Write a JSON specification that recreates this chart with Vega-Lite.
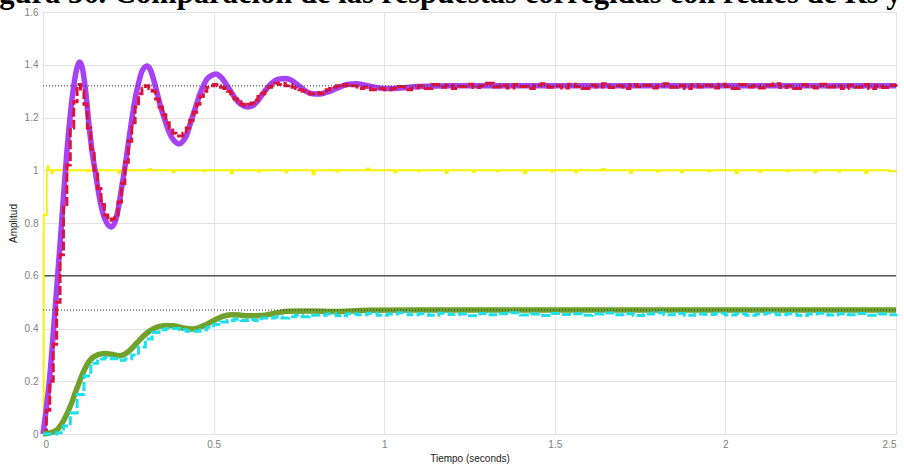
{
  "$schema": "https://vega.github.io/schema/vega-lite/v6.json",
  "width": 853,
  "height": 422,
  "autosize": {"type": "none"},
  "padding": {"left": 43, "top": 12, "right": 8, "bottom": 31},
  "background": "white",
  "title": {
    "text": "Figura 36. Comparación de las respuestas corregidas con reales de Rs y",
    "font": "Liberation Serif",
    "fontWeight": "bold",
    "fontSize": 30.6,
    "color": "black",
    "anchor": "start",
    "frame": "group",
    "baseline": "alphabetic",
    "dx": -71,
    "dy": 27,
    "offset": 0
  },
  "config": {
    "view": {"stroke": "#bdbdbd", "strokeWidth": 1},
    "axis": {
      "domain": false,
      "ticks": false,
      "grid": true,
      "gridColor": "#e3e3e3",
      "gridWidth": 1,
      "labelFont": "Liberation Sans Narrow, Liberation Sans",
      "labelFontSize": 10,
      "labelColor": "#808080",
      "titleFont": "Liberation Sans",
      "titleFontSize": 10,
      "titleFontWeight": "normal",
      "titleColor": "#222222"
    }
  },
  "datasets": {
    "purple": [
      {"t": 0, "v": 0}, {"t": 0.01, "v": 0.1}, {"t": 0.02, "v": 0.22}, {"t": 0.03, "v": 0.38}, {"t": 0.04, "v": 0.55},
      {"t": 0.05, "v": 0.72}, {"t": 0.06, "v": 0.9}, {"t": 0.07, "v": 1.07}, {"t": 0.08, "v": 1.21}, {"t": 0.09, "v": 1.32},
      {"t": 0.1, "v": 1.39}, {"t": 0.107, "v": 1.41}, {"t": 0.115, "v": 1.39}, {"t": 0.125, "v": 1.3}, {"t": 0.135, "v": 1.17},
      {"t": 0.145, "v": 1.06}, {"t": 0.155, "v": 0.98}, {"t": 0.165, "v": 0.9}, {"t": 0.175, "v": 0.84}, {"t": 0.187, "v": 0.8},
      {"t": 0.2, "v": 0.785}, {"t": 0.21, "v": 0.8}, {"t": 0.22, "v": 0.85}, {"t": 0.23, "v": 0.93}, {"t": 0.24, "v": 1.01},
      {"t": 0.25, "v": 1.1}, {"t": 0.26, "v": 1.19}, {"t": 0.27, "v": 1.27}, {"t": 0.28, "v": 1.33}, {"t": 0.29, "v": 1.375},
      {"t": 0.305, "v": 1.395}, {"t": 0.315, "v": 1.38}, {"t": 0.325, "v": 1.34}, {"t": 0.335, "v": 1.29}, {"t": 0.345, "v": 1.24},
      {"t": 0.355, "v": 1.2}, {"t": 0.365, "v": 1.16}, {"t": 0.375, "v": 1.13}, {"t": 0.387, "v": 1.108}, {"t": 0.4, "v": 1.1},
      {"t": 0.41, "v": 1.11}, {"t": 0.42, "v": 1.13}, {"t": 0.43, "v": 1.17}, {"t": 0.44, "v": 1.21}, {"t": 0.45, "v": 1.25},
      {"t": 0.46, "v": 1.29}, {"t": 0.47, "v": 1.32}, {"t": 0.48, "v": 1.345}, {"t": 0.495, "v": 1.36}, {"t": 0.507, "v": 1.365},
      {"t": 0.52, "v": 1.355}, {"t": 0.535, "v": 1.33}, {"t": 0.55, "v": 1.3}, {"t": 0.565, "v": 1.27}, {"t": 0.58, "v": 1.25},
      {"t": 0.6, "v": 1.24}, {"t": 0.615, "v": 1.245}, {"t": 0.63, "v": 1.265}, {"t": 0.65, "v": 1.3}, {"t": 0.67, "v": 1.33},
      {"t": 0.69, "v": 1.345}, {"t": 0.71, "v": 1.348}, {"t": 0.73, "v": 1.34}, {"t": 0.75, "v": 1.32}, {"t": 0.77, "v": 1.3},
      {"t": 0.79, "v": 1.29}, {"t": 0.81, "v": 1.289}, {"t": 0.83, "v": 1.295}, {"t": 0.86, "v": 1.31}, {"t": 0.89, "v": 1.325},
      {"t": 0.92, "v": 1.328}, {"t": 0.96, "v": 1.318}, {"t": 1.0, "v": 1.31}, {"t": 1.05, "v": 1.312}, {"t": 1.1, "v": 1.318},
      {"t": 1.2, "v": 1.32}, {"t": 2.5, "v": 1.32}
    ],
    "red": [
      {"t": 0, "v": 0}, {"t": 0.01, "v": 0.09}, {"t": 0.02, "v": 0.2}, {"t": 0.03, "v": 0.34}, {"t": 0.04, "v": 0.5},
      {"t": 0.05, "v": 0.68}, {"t": 0.06, "v": 0.86}, {"t": 0.07, "v": 1.02}, {"t": 0.08, "v": 1.16}, {"t": 0.09, "v": 1.26},
      {"t": 0.1, "v": 1.325}, {"t": 0.11, "v": 1.3}, {"t": 0.12, "v": 1.25}, {"t": 0.13, "v": 1.16}, {"t": 0.14, "v": 1.08},
      {"t": 0.15, "v": 1.0}, {"t": 0.16, "v": 0.93}, {"t": 0.17, "v": 0.87}, {"t": 0.18, "v": 0.83}, {"t": 0.19, "v": 0.81},
      {"t": 0.2, "v": 0.815}, {"t": 0.21, "v": 0.83}, {"t": 0.22, "v": 0.88}, {"t": 0.23, "v": 0.95}, {"t": 0.24, "v": 1.03},
      {"t": 0.25, "v": 1.11}, {"t": 0.26, "v": 1.18}, {"t": 0.27, "v": 1.24}, {"t": 0.28, "v": 1.29}, {"t": 0.29, "v": 1.31},
      {"t": 0.3, "v": 1.32}, {"t": 0.31, "v": 1.31}, {"t": 0.32, "v": 1.3}, {"t": 0.33, "v": 1.27}, {"t": 0.34, "v": 1.24},
      {"t": 0.35, "v": 1.21}, {"t": 0.36, "v": 1.18}, {"t": 0.37, "v": 1.16}, {"t": 0.38, "v": 1.14}, {"t": 0.39, "v": 1.13},
      {"t": 0.4, "v": 1.13}, {"t": 0.41, "v": 1.14}, {"t": 0.42, "v": 1.16}, {"t": 0.43, "v": 1.19}, {"t": 0.44, "v": 1.22},
      {"t": 0.45, "v": 1.25}, {"t": 0.46, "v": 1.28}, {"t": 0.47, "v": 1.3}, {"t": 0.48, "v": 1.315}, {"t": 0.49, "v": 1.32},
      {"t": 0.5, "v": 1.325}, {"t": 0.51, "v": 1.32}, {"t": 0.52, "v": 1.315}, {"t": 0.53, "v": 1.31}, {"t": 0.54, "v": 1.3},
      {"t": 0.55, "v": 1.29}, {"t": 0.56, "v": 1.27}, {"t": 0.57, "v": 1.26}, {"t": 0.58, "v": 1.25}, {"t": 0.59, "v": 1.245},
      {"t": 0.6, "v": 1.25}, {"t": 0.61, "v": 1.255}, {"t": 0.62, "v": 1.265}, {"t": 0.63, "v": 1.28}, {"t": 0.64, "v": 1.29},
      {"t": 0.65, "v": 1.3}, {"t": 0.66, "v": 1.315}, {"t": 0.67, "v": 1.32}, {"t": 0.68, "v": 1.33}, {"t": 0.69, "v": 1.325},
      {"t": 0.7, "v": 1.33}, {"t": 0.71, "v": 1.32}, {"t": 0.72, "v": 1.325}, {"t": 0.73, "v": 1.315}, {"t": 0.74, "v": 1.31},
      {"t": 0.75, "v": 1.305}, {"t": 0.76, "v": 1.3}, {"t": 0.77, "v": 1.295}, {"t": 0.78, "v": 1.29}, {"t": 0.79, "v": 1.29},
      {"t": 0.8, "v": 1.295}, {"t": 0.81, "v": 1.29}, {"t": 0.82, "v": 1.3}, {"t": 0.83, "v": 1.305}, {"t": 0.84, "v": 1.31},
      {"t": 0.85, "v": 1.315}, {"t": 0.86, "v": 1.32}, {"t": 0.87, "v": 1.325}, {"t": 0.88, "v": 1.32}, {"t": 0.89, "v": 1.325},
      {"t": 0.9, "v": 1.32}, {"t": 0.92, "v": 1.31}, {"t": 0.94, "v": 1.315}, {"t": 0.96, "v": 1.305}, {"t": 0.98, "v": 1.31},
      {"t": 1.0, "v": 1.305}, {"t": 1.02, "v": 1.31}, {"t": 1.04, "v": 1.318}, {"t": 1.06, "v": 1.305}, {"t": 1.08, "v": 1.312},
      {"t": 1.1, "v": 1.32}, {"t": 1.12, "v": 1.31}, {"t": 1.14, "v": 1.325}, {"t": 1.16, "v": 1.315}, {"t": 1.18, "v": 1.322},
      {"t": 1.2, "v": 1.31}, {"t": 1.22, "v": 1.318}, {"t": 1.24, "v": 1.326}, {"t": 1.26, "v": 1.314}, {"t": 1.28, "v": 1.32},
      {"t": 1.3, "v": 1.33}, {"t": 1.32, "v": 1.316}, {"t": 1.34, "v": 1.322}, {"t": 1.36, "v": 1.312}, {"t": 1.38, "v": 1.325},
      {"t": 1.4, "v": 1.318}, {"t": 1.42, "v": 1.31}, {"t": 1.44, "v": 1.322}, {"t": 1.46, "v": 1.328}, {"t": 1.48, "v": 1.315},
      {"t": 1.5, "v": 1.32}, {"t": 1.52, "v": 1.312}, {"t": 1.54, "v": 1.326}, {"t": 1.56, "v": 1.318}, {"t": 1.58, "v": 1.31},
      {"t": 1.6, "v": 1.322}, {"t": 1.62, "v": 1.316}, {"t": 1.64, "v": 1.328}, {"t": 1.66, "v": 1.314}, {"t": 1.68, "v": 1.32},
      {"t": 1.7, "v": 1.31}, {"t": 1.72, "v": 1.325}, {"t": 1.74, "v": 1.318}, {"t": 1.76, "v": 1.322}, {"t": 1.78, "v": 1.312},
      {"t": 1.8, "v": 1.32}, {"t": 1.82, "v": 1.328}, {"t": 1.84, "v": 1.315}, {"t": 1.86, "v": 1.321}, {"t": 1.88, "v": 1.31},
      {"t": 1.9, "v": 1.324}, {"t": 1.92, "v": 1.316}, {"t": 1.94, "v": 1.322}, {"t": 1.96, "v": 1.312}, {"t": 1.98, "v": 1.326},
      {"t": 2.0, "v": 1.318}, {"t": 2.02, "v": 1.31}, {"t": 2.04, "v": 1.325}, {"t": 2.06, "v": 1.316}, {"t": 2.08, "v": 1.32},
      {"t": 2.1, "v": 1.312}, {"t": 2.12, "v": 1.322}, {"t": 2.14, "v": 1.328}, {"t": 2.16, "v": 1.314}, {"t": 2.18, "v": 1.32},
      {"t": 2.2, "v": 1.31}, {"t": 2.22, "v": 1.324}, {"t": 2.24, "v": 1.318}, {"t": 2.26, "v": 1.312}, {"t": 2.28, "v": 1.326},
      {"t": 2.3, "v": 1.316}, {"t": 2.32, "v": 1.32}, {"t": 2.34, "v": 1.31}, {"t": 2.36, "v": 1.322}, {"t": 2.38, "v": 1.315},
      {"t": 2.4, "v": 1.325}, {"t": 2.42, "v": 1.31}, {"t": 2.44, "v": 1.32}, {"t": 2.46, "v": 1.314}, {"t": 2.48, "v": 1.322},
      {"t": 2.5, "v": 1.316}
    ],
    "yellow": [
      {"t": 0, "v": 0}, {"t": 0.002, "v": 0.83}, {"t": 0.011, "v": 1.0}, {"t": 0.013, "v": 1.015}, {"t": 0.016, "v": 1.0},
      {"t": 0.025, "v": 0.99}, {"t": 0.028, "v": 1.0},
      {"t": 0.07, "v": 0.993}, {"t": 0.076, "v": 1.0}, {"t": 0.13, "v": 0.996}, {"t": 0.136, "v": 1.0},
      {"t": 0.22, "v": 0.99}, {"t": 0.226, "v": 1.0}, {"t": 0.31, "v": 1.005}, {"t": 0.316, "v": 1.0},
      {"t": 0.38, "v": 0.993}, {"t": 0.386, "v": 1.0}, {"t": 0.47, "v": 0.996}, {"t": 0.476, "v": 1.0},
      {"t": 0.55, "v": 0.99}, {"t": 0.556, "v": 1.0}, {"t": 0.63, "v": 0.995}, {"t": 0.636, "v": 1.0},
      {"t": 0.71, "v": 0.992}, {"t": 0.716, "v": 1.0}, {"t": 0.79, "v": 0.985}, {"t": 0.796, "v": 1.0},
      {"t": 0.86, "v": 0.995}, {"t": 0.866, "v": 1.0}, {"t": 0.95, "v": 1.006}, {"t": 0.956, "v": 1.0},
      {"t": 1.03, "v": 0.992}, {"t": 1.036, "v": 1.0}, {"t": 1.1, "v": 0.996}, {"t": 1.106, "v": 1.0},
      {"t": 1.18, "v": 0.99}, {"t": 1.186, "v": 1.0}, {"t": 1.26, "v": 0.994}, {"t": 1.266, "v": 1.0},
      {"t": 1.33, "v": 0.996}, {"t": 1.336, "v": 1.0}, {"t": 1.41, "v": 0.99}, {"t": 1.416, "v": 1.0},
      {"t": 1.49, "v": 0.995}, {"t": 1.496, "v": 1.0}, {"t": 1.56, "v": 0.992}, {"t": 1.566, "v": 1.0},
      {"t": 1.64, "v": 1.005}, {"t": 1.646, "v": 1.0}, {"t": 1.72, "v": 0.99}, {"t": 1.726, "v": 1.0},
      {"t": 1.8, "v": 0.995}, {"t": 1.806, "v": 1.0}, {"t": 1.87, "v": 0.993}, {"t": 1.876, "v": 1.0},
      {"t": 1.95, "v": 0.996}, {"t": 1.956, "v": 1.0}, {"t": 2.03, "v": 0.99}, {"t": 2.036, "v": 1.0},
      {"t": 2.1, "v": 0.994}, {"t": 2.106, "v": 1.0}, {"t": 2.18, "v": 0.996}, {"t": 2.186, "v": 1.0},
      {"t": 2.26, "v": 0.992}, {"t": 2.266, "v": 1.0}, {"t": 2.33, "v": 0.995}, {"t": 2.336, "v": 1.0},
      {"t": 2.41, "v": 0.99}, {"t": 2.416, "v": 1.0}, {"t": 2.48, "v": 0.996}, {"t": 2.5, "v": 1.0}
    ],
    "green": [
      {"t": 0, "v": 0}, {"t": 0.02, "v": 0.004}, {"t": 0.04, "v": 0.015}, {"t": 0.06, "v": 0.05}, {"t": 0.08, "v": 0.105},
      {"t": 0.1, "v": 0.175}, {"t": 0.12, "v": 0.24}, {"t": 0.14, "v": 0.283}, {"t": 0.16, "v": 0.3}, {"t": 0.18, "v": 0.305},
      {"t": 0.2, "v": 0.302}, {"t": 0.225, "v": 0.297}, {"t": 0.25, "v": 0.312}, {"t": 0.275, "v": 0.345}, {"t": 0.3, "v": 0.378},
      {"t": 0.325, "v": 0.4}, {"t": 0.355, "v": 0.41}, {"t": 0.38, "v": 0.41}, {"t": 0.41, "v": 0.402}, {"t": 0.44, "v": 0.398},
      {"t": 0.47, "v": 0.41}, {"t": 0.5, "v": 0.43}, {"t": 0.525, "v": 0.445}, {"t": 0.55, "v": 0.452}, {"t": 0.575, "v": 0.451},
      {"t": 0.6, "v": 0.448}, {"t": 0.64, "v": 0.449}, {"t": 0.68, "v": 0.458}, {"t": 0.72, "v": 0.465}, {"t": 0.79, "v": 0.466},
      {"t": 0.85, "v": 0.464}, {"t": 0.95, "v": 0.469}, {"t": 1.1, "v": 0.47}, {"t": 2.5, "v": 0.47}
    ],
    "cyan": [
      {"t": 0, "v": 0}, {"t": 0.02, "v": 0}, {"t": 0.04, "v": 0.005}, {"t": 0.06, "v": 0.03}, {"t": 0.08, "v": 0.08},
      {"t": 0.1, "v": 0.15}, {"t": 0.12, "v": 0.22}, {"t": 0.14, "v": 0.268}, {"t": 0.16, "v": 0.284}, {"t": 0.18, "v": 0.29},
      {"t": 0.2, "v": 0.285}, {"t": 0.22, "v": 0.28}, {"t": 0.24, "v": 0.285}, {"t": 0.26, "v": 0.3}, {"t": 0.28, "v": 0.33},
      {"t": 0.3, "v": 0.36}, {"t": 0.32, "v": 0.385}, {"t": 0.34, "v": 0.395}, {"t": 0.36, "v": 0.4}, {"t": 0.38, "v": 0.4},
      {"t": 0.4, "v": 0.395}, {"t": 0.42, "v": 0.39}, {"t": 0.44, "v": 0.39}, {"t": 0.46, "v": 0.395}, {"t": 0.48, "v": 0.405},
      {"t": 0.5, "v": 0.415}, {"t": 0.52, "v": 0.425}, {"t": 0.54, "v": 0.43}, {"t": 0.56, "v": 0.435}, {"t": 0.58, "v": 0.43},
      {"t": 0.6, "v": 0.435}, {"t": 0.62, "v": 0.43}, {"t": 0.64, "v": 0.44}, {"t": 0.66, "v": 0.44}, {"t": 0.68, "v": 0.445},
      {"t": 0.7, "v": 0.44}, {"t": 0.72, "v": 0.445}, {"t": 0.74, "v": 0.45}, {"t": 0.76, "v": 0.445}, {"t": 0.78, "v": 0.45},
      {"t": 0.8, "v": 0.45}, {"t": 0.83, "v": 0.455}, {"t": 0.86, "v": 0.448}, {"t": 0.89, "v": 0.456}, {"t": 0.92, "v": 0.452},
      {"t": 0.95, "v": 0.458}, {"t": 0.98, "v": 0.45}, {"t": 1.01, "v": 0.455}, {"t": 1.04, "v": 0.46}, {"t": 1.07, "v": 0.452},
      {"t": 1.1, "v": 0.456}, {"t": 1.13, "v": 0.45}, {"t": 1.16, "v": 0.458}, {"t": 1.19, "v": 0.453}, {"t": 1.22, "v": 0.455},
      {"t": 1.25, "v": 0.448}, {"t": 1.28, "v": 0.457}, {"t": 1.31, "v": 0.452}, {"t": 1.34, "v": 0.456}, {"t": 1.37, "v": 0.46},
      {"t": 1.4, "v": 0.451}, {"t": 1.43, "v": 0.455}, {"t": 1.46, "v": 0.449}, {"t": 1.49, "v": 0.457}, {"t": 1.52, "v": 0.453},
      {"t": 1.55, "v": 0.456}, {"t": 1.58, "v": 0.45}, {"t": 1.61, "v": 0.455}, {"t": 1.64, "v": 0.459}, {"t": 1.67, "v": 0.452},
      {"t": 1.7, "v": 0.456}, {"t": 1.73, "v": 0.449}, {"t": 1.76, "v": 0.455}, {"t": 1.79, "v": 0.46}, {"t": 1.82, "v": 0.452},
      {"t": 1.85, "v": 0.457}, {"t": 1.88, "v": 0.45}, {"t": 1.91, "v": 0.455}, {"t": 1.94, "v": 0.453}, {"t": 1.97, "v": 0.458},
      {"t": 2.0, "v": 0.451}, {"t": 2.03, "v": 0.456}, {"t": 2.06, "v": 0.45}, {"t": 2.09, "v": 0.455}, {"t": 2.12, "v": 0.459},
      {"t": 2.15, "v": 0.452}, {"t": 2.18, "v": 0.456}, {"t": 2.21, "v": 0.449}, {"t": 2.24, "v": 0.455}, {"t": 2.27, "v": 0.458},
      {"t": 2.3, "v": 0.451}, {"t": 2.33, "v": 0.456}, {"t": 2.36, "v": 0.452}, {"t": 2.39, "v": 0.457}, {"t": 2.42, "v": 0.45},
      {"t": 2.45, "v": 0.455}, {"t": 2.48, "v": 0.452}, {"t": 2.5, "v": 0.456}
    ],
    "grayline": [{"v": 0.6}],
    "refs": [{"v": 1.32}, {"v": 0.47}]
  },
  "layer": [
    {
      "data": {"name": "grayline"},
      "mark": {"type": "rule", "color": "#5a5a5a", "strokeWidth": 1.5},
      "encoding": {
        "y": {"field": "v", "type": "quantitative", "scale": {"domain": [0, 1.6], "nice": false, "zero": false},
          "axis": {"values": [0, 0.2, 0.4, 0.6, 0.8, 1, 1.2, 1.4, 1.6], "format": "~g", "title": "Amplitud", "labelPadding": 5, "titlePadding": 6}}
      }
    },
    {
      "data": {"name": "yellow"},
      "mark": {"type": "line", "color": "#f7f200", "strokeWidth": 2, "interpolate": "step-after"},
      "encoding": {
        "x": {"field": "t", "type": "quantitative", "scale": {"domain": [0, 2.5], "nice": false, "zero": false},
          "axis": {"values": [0, 0.5, 1, 1.5, 2, 2.5], "format": "~g", "title": "Tiempo (seconds)", "labelPadding": 5, "titlePadding": 4}},
        "y": {"field": "v", "type": "quantitative", "scale": {"domain": [0, 1.6], "nice": false, "zero": false}}
      }
    },
    {
      "data": {"name": "purple"},
      "mark": {"type": "line", "color": "#a641f5", "strokeWidth": 5.5, "interpolate": "monotone"},
      "encoding": {
        "x": {"field": "t", "type": "quantitative"},
        "y": {"field": "v", "type": "quantitative"}
      }
    },
    {
      "data": {"name": "red"},
      "mark": {"type": "line", "color": "#dc143c", "strokeWidth": 3, "interpolate": "step-after", "strokeDash": [9, 3]},
      "encoding": {
        "x": {"field": "t", "type": "quantitative"},
        "y": {"field": "v", "type": "quantitative"}
      }
    },
    {
      "data": {"name": "green"},
      "mark": {"type": "line", "color": "#6fa12b", "strokeWidth": 5.5, "interpolate": "monotone"},
      "encoding": {
        "x": {"field": "t", "type": "quantitative"},
        "y": {"field": "v", "type": "quantitative"}
      }
    },
    {
      "data": {"name": "cyan"},
      "mark": {"type": "line", "color": "#1ee0ea", "strokeWidth": 3, "interpolate": "step-after", "strokeDash": [9, 3]},
      "encoding": {
        "x": {"field": "t", "type": "quantitative"},
        "y": {"field": "v", "type": "quantitative"}
      }
    },
    {
      "data": {"name": "refs"},
      "mark": {"type": "rule", "color": "#333333", "strokeWidth": 1, "strokeDash": [1, 2]},
      "encoding": {
        "y": {"field": "v", "type": "quantitative"}
      }
    }
  ]
}
